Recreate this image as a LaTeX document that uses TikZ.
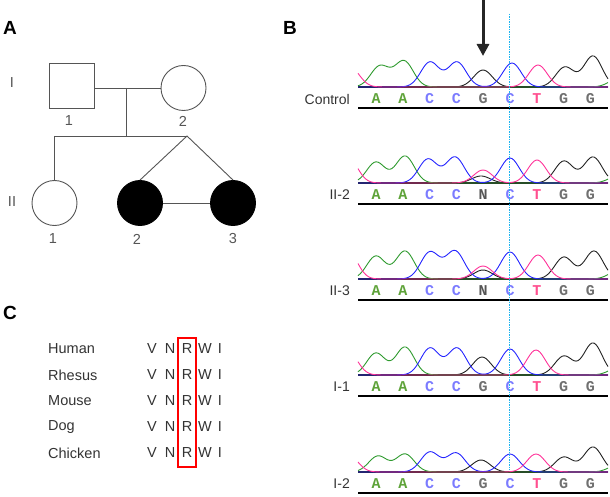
\documentclass[tikz,border=0pt]{standalone}
\usepackage{fontspec}
\setmainfont{Liberation Sans}
\setmonofont{Liberation Mono}
\usetikzlibrary{arrows.meta}
\definecolor{pedline}{HTML}{555555}
\definecolor{tgreen}{HTML}{2E9A2E}
\definecolor{tblue}{HTML}{2424FF}
\definecolor{tpink}{HTML}{FF3399}
\definecolor{tblack}{HTML}{222222}
\definecolor{seqA}{HTML}{5FA33A}
\definecolor{seqC}{HTML}{7B7BFF}
\definecolor{seqG}{HTML}{707070}
\definecolor{seqT}{HTML}{FF4F8F}
\definecolor{seqN}{HTML}{555555}
\definecolor{cutline}{HTML}{1EB4F0}

%% one chromatogram trace: style, baseline, sum of peaks
\newcommand{\trace}[3]{\draw[#1] plot[domain=358:608,samples=126] (\x,{#2-(#3)});}
%% label, called bases and underline of one row
\newcommand{\seqrow}[4]{%
  \node[rowlabel] (#1-lab) at (350,#2+12) {#3};
  \foreach \b [count=\i] in {#4}
    \node[base\b] (#1-\i) at ({376+26.8*(\i-1)},#2+12) {\b};
  \coordinate (#1-ul) at (358,#2+21);
  \coordinate (#1-ur) at (608,#2+21);
  \draw[underline] (#1-ul) -- (#1-ur);
  \draw[baseline] (358,#2) -- (608,#2);
}

\begin{document}
\begin{tikzpicture}%
	[x=1pt,y=-1pt,
	declare function={pk(\pos,\ctr,\hgt)=\hgt*exp(-((\pos-\ctr)/13)*((\pos-\ctr)/13));},
	panel/.style={font=\bfseries\fontsize{19}{19}\selectfont, inner sep=0pt},
	ped/.style={draw=pedline, line width=0.9pt},
	male/.style={ped, rectangle, minimum size=45pt, inner sep=0pt},
	female/.style={ped, circle, minimum size=45pt, inner sep=0pt},
	affected/.style={fill=black, draw=black},
	pedtext/.style={text=pedline, font=\fontsize{14.5}{14.5}\selectfont, inner sep=0pt},
	rowlabel/.style={anchor=east, inner sep=0pt, text=black!80, font=\fontsize{14}{14}\selectfont},
	basechar/.style={inner sep=0pt, font=\ttfamily\bfseries\fontsize{15}{15}\selectfont},
	baseA/.style={basechar, text=seqA},
	baseC/.style={basechar, text=seqC},
	baseG/.style={basechar, text=seqG},
	baseT/.style={basechar, text=seqT},
	baseN/.style={basechar, text=seqN},
	underline/.style={black, line width=2pt},
	baseline/.style={black!85, line width=1.6pt},
	gtrace/.style={tgreen, line width=0.9pt, line join=round},
	btrace/.style={tblue, line width=0.9pt, line join=round},
	ktrace/.style={tblack, line width=0.9pt, line join=round},
	ptrace/.style={tpink, line width=0.9pt, line join=round},
	cut/.style={cutline, dash pattern=on 1.5pt off 1pt, line width=1pt},
	mark arrow/.style={black!85, line width=3pt, -{Triangle[width=12pt,length=12pt]}},
	species/.style={anchor=west, inner sep=0pt, text=black!80, font=\fontsize{14.5}{14.5}\selectfont},
	residue/.style={inner sep=0pt, text=black!80, font=\fontsize{14.5}{14.5}\selectfont},
	redbox/.style={red, line width=2pt}]
%
\useasboundingbox (0,0) rectangle (610,497);
%%
%% Panel labels
%%
\node[panel] (pA) at (10,28) {A};
\node[panel] (pB) at (290,28) {B};
\node[panel] (pC) at (10,313) {C};
%%
%%
%% Pedigree
%%
\node[male] (i1) at (71.5,86) {};
\node[female] (i2) at (183.5,88) {};
\node[female] (ii1) at (54.5,203) {};
\node[female,affected] (ii2) at (140,203) {};
\node[female,affected] (ii3) at (233,203) {};
\coordinate (mid) at (126,88);
\coordinate (sib) at (126,136);
\coordinate (sibL) at (54.5,136);
\coordinate (twin) at (187,136);
\draw[ped] (i2.west) -- (i2.west -| i1.east);
\draw[ped] (mid) -- (sib);
\draw[ped] (sibL) -- (twin);
\draw[ped] (sibL) -- (ii1.north);
\draw[ped] (ii2.north) -- (twin) -- (ii3.north);
\draw[ped] (ii2.east) -- (ii3.west);
\node[pedtext] (genI) at (12,83) {I};
\node[pedtext] (genII) at (12,202) {II};
\node[pedtext] (n-i1) at (69,121) {1};
\node[pedtext] (n-i2) at (183,121) {2};
\node[pedtext] (n-ii1) at (53,239) {1};
\node[pedtext] (n-ii2) at (137,239) {2};
\node[pedtext] (n-ii3) at (233,239) {3};
%%
%%
%% Chromatograms
%%
\seqrow{ctl}{87}{Control}{A,A,C,C,G,C,T,G,G}
\trace{ktrace}{87}{pk(\x,483,17)+pk(\x,565,20)+pk(\x,593,31)}
\trace{gtrace}{87}{pk(\x,380,21)+pk(\x,404,26)+pk(\x,618,8)}
\trace{btrace}{87}{pk(\x,430,25)+pk(\x,457,25)+pk(\x,512,24)}
\trace{ptrace}{87}{pk(\x,350,20)+pk(\x,538,22)}
%
\seqrow{iitwo}{183}{II-2}{A,A,C,C,N,C,T,G,G}
\trace{ktrace}{183}{pk(\x,481,7)+pk(\x,564,22)+pk(\x,593,26)}
\trace{gtrace}{183}{pk(\x,376,21)+pk(\x,405,27)+pk(\x,618,7)}
\trace{btrace}{183}{pk(\x,428,24)+pk(\x,455,26)+pk(\x,510,25)}
\trace{ptrace}{183}{pk(\x,348,26)+pk(\x,483,13)+pk(\x,537,23)}
%
\seqrow{iithree}{279}{II-3}{A,A,C,C,N,C,T,G,G}
\trace{ktrace}{279}{pk(\x,483,9)+pk(\x,564,22)+pk(\x,594,28)}
\trace{gtrace}{279}{pk(\x,376,23)+pk(\x,405,28)+pk(\x,618,8)}
\trace{btrace}{279}{pk(\x,430,27)+pk(\x,455,28)+pk(\x,510,27)}
\trace{ptrace}{279}{pk(\x,348,28)+pk(\x,483,13)+pk(\x,538,24)}
%
\seqrow{ione}{375}{I-1}{A,A,C,C,G,C,T,G,G}
\trace{ktrace}{375}{pk(\x,482,18)+pk(\x,564,19)+pk(\x,593,32)}
\trace{gtrace}{375}{pk(\x,376,22)+pk(\x,405,28)+pk(\x,618,7)}
\trace{btrace}{375}{pk(\x,430,27)+pk(\x,457,27)+pk(\x,510,26)}
\trace{ptrace}{375}{pk(\x,348,24)+pk(\x,536,25)}
%
\seqrow{itwo}{472}{I-2}{A,A,C,C,G,C,T,G,G}
\trace{ktrace}{472}{pk(\x,481,12)+pk(\x,564,15)+pk(\x,593,25)}
\trace{gtrace}{472}{pk(\x,378,16)+pk(\x,405,18)+pk(\x,618,7)}
\trace{btrace}{472}{pk(\x,430,20)+pk(\x,456,19)+pk(\x,510,18)}
\trace{ptrace}{472}{pk(\x,348,18)+pk(\x,536,18)}
%%
%% mutation site
\coordinate (cuttop) at (509,14);
\coordinate (cutbot) at (509,470);
\draw[cut] (cuttop) -- (cutbot);
\coordinate (arrtop) at (483,0);
\coordinate (arrtip) at (483,56);
\draw[mark arrow] (arrtop) -- (arrtip);
%%
%%
%% Conservation
%%
\foreach \sp [count=\j] in {Human,Rhesus,Mouse,Dog,Chicken} {
  \node[species] (sp\j) at (48,{349+26*(\j-1)}) {\sp};
  \foreach \aa/\ax in {V/152,N/170,R/187,W/205,I/220}
    \node[residue] (\aa\j) at (\ax,{349+26*(\j-1)}) {\aa};
}
\draw[redbox] (178,338) rectangle (196,467);

\end{tikzpicture}
\end{document}
